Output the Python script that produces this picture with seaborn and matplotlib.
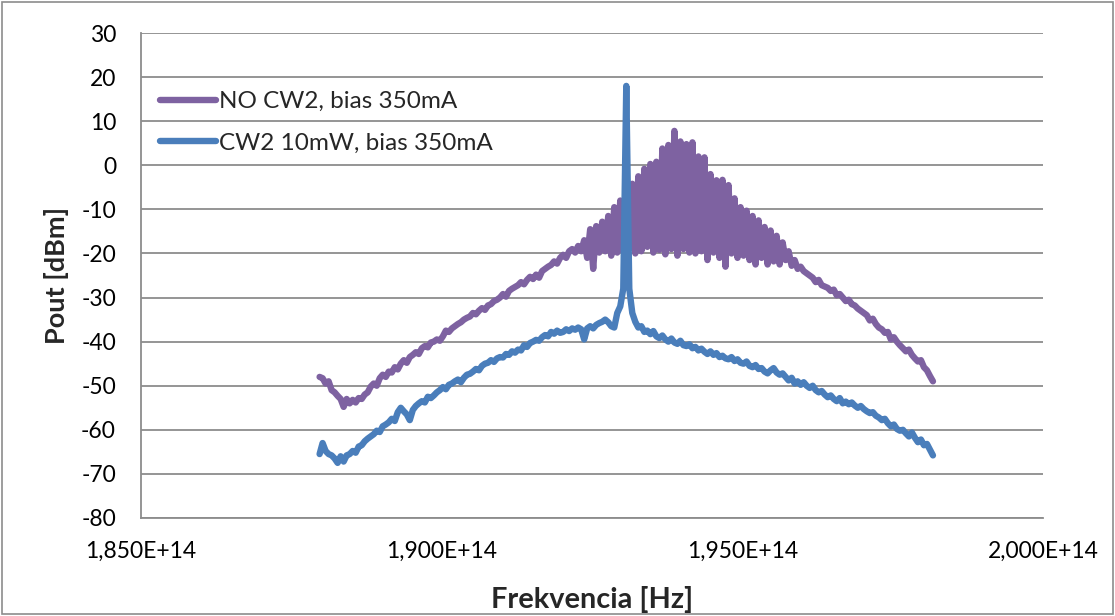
import numpy as np
import pandas as pd
import matplotlib
matplotlib.use("Agg")
import matplotlib.pyplot as plt
from matplotlib.lines import Line2D
from matplotlib.patches import Rectangle
from matplotlib.ticker import FuncFormatter
import seaborn as sns

# Optical spectrum sampled on a uniform 50 GHz grid
freq_start_hz = 1.8797e14
freq_step_hz = 5e10

series_names = ["NO CW2, bias 350mA", "CW2 10mW, bias 350mA"]
series_colors = ["#7E62A1", "#4A7EBB"]

# Output power without the CW2 signal [dBm]
pout_no_cw2 = [
    -48.0, -48.3, -49.5, -49.0, -51.0, -51.5, -52.3, -53.0, -54.8, -53.0,
    -54.0, -53.2, -53.8, -52.8, -53.0, -52.0, -51.5, -50.2, -49.5, -50.0,
    -48.3, -47.5, -48.0, -46.8, -47.0, -45.8, -46.3, -45.0, -44.2, -44.8,
    -43.5, -43.0, -42.4, -42.8, -41.5, -41.0, -41.3, -40.2, -40.0, -39.5,
    -39.8, -38.8, -37.5, -37.8, -37.0, -36.5, -36.0, -35.6, -35.0, -34.6,
    -34.3, -33.5, -33.8, -33.0, -32.4, -32.8, -31.8, -31.5, -30.8, -30.5,
    -30.0, -29.2, -29.8, -28.5, -28.0, -27.6, -27.2, -26.5, -27.0, -26.0,
    -25.3, -25.8, -24.8, -25.5, -24.0, -23.5, -23.0, -22.6, -21.8, -22.3,
    -21.0, -20.3, -21.0, -19.5, -19.0, -19.8, -18.3, -19.5, -17.0, -21.0,
    -14.5, -23.5, -13.8, -19.8, -12.8, -19.5, -11.5, -20.5, -9.5, -19.8,
    -8.0, -19.5, -6.5, -19.0, -4.2, -20.0, -2.5, -19.5, -0.8, -18.5,
    0.3, -19.8, 0.8, -19.2, 3.8, -20.2, 4.6, -19.0, 7.8, -20.5,
    5.4, -19.0, 4.8, -19.8, 5.2, -20.0, 2.0, -19.5, 1.8, -21.5,
    -2.0, -19.8, -3.4, -21.0, -3.3, -23.0, -4.5, -20.0, -7.5, -21.0,
    -9.5, -20.5, -10.3, -21.5, -11.5, -22.5, -12.5, -21.0, -14.0, -22.5,
    -14.8, -21.8, -16.0, -22.5, -17.5, -21.5, -19.5, -22.8, -21.5, -23.5,
    -23.0, -24.0, -24.5, -25.0, -25.5, -26.5, -26.0, -27.2, -27.5, -27.8,
    -28.5, -28.2, -29.5, -29.2, -30.0, -30.8, -30.5, -31.5, -31.8, -32.5,
    -33.0, -33.5, -34.0, -35.2, -34.8, -36.0, -36.8, -37.2, -38.0, -37.8,
    -39.5, -39.0, -40.0, -40.8, -41.5, -42.2, -41.8, -43.0, -43.8, -44.5,
    -44.2, -45.8, -46.5, -47.8, -49.0,
]

# Output power with a 10 mW CW2 signal [dBm]
pout_cw2 = [
    -65.5, -63.0, -64.8, -65.5, -65.8, -66.5, -67.5, -66.0, -67.2, -65.8,
    -65.5, -64.8, -65.2, -63.8, -63.5, -62.6, -62.0, -61.5, -61.0, -60.2,
    -60.5, -59.2, -58.8, -58.3, -57.5, -58.0, -56.0, -55.0, -55.8, -56.5,
    -57.8, -55.5, -54.6, -54.0, -53.5, -53.8, -52.5, -52.8, -52.2, -51.5,
    -51.0, -50.3, -50.8, -49.8, -49.5, -49.0, -48.6, -49.2, -48.2, -47.5,
    -47.3, -46.8, -46.2, -46.5, -45.5, -45.0, -44.8, -44.2, -44.6, -43.8,
    -43.5, -43.6, -42.8, -43.0, -42.2, -42.5, -41.8, -42.0, -40.8, -41.2,
    -40.3, -40.0, -39.6, -39.8, -39.0, -38.5, -38.8, -37.8, -38.2, -37.5,
    -38.0, -37.8, -37.2, -37.6, -37.0, -37.3, -36.8, -37.2, -39.5, -37.0,
    -36.5, -37.0, -36.2, -35.8, -35.5, -35.0, -35.6, -36.5, -36.8, -33.5,
    -32.0, -28.0, 18.0, -28.0, -33.5, -35.5, -36.8, -36.5, -37.8, -37.5,
    -38.3, -37.6, -38.8, -39.2, -38.6, -39.5, -40.0, -39.3, -40.2, -40.5,
    -39.8, -40.8, -41.0, -40.6, -41.5, -41.2, -42.0, -41.6, -42.3, -42.8,
    -42.2, -43.0, -42.6, -43.5, -43.2, -43.8, -44.0, -43.5, -44.4, -44.0,
    -44.8, -45.0, -44.5, -45.5, -45.8, -45.3, -46.2, -46.0, -46.8, -47.2,
    -46.5, -46.0, -47.0, -47.5, -47.2, -48.0, -48.8, -48.2, -49.5, -49.0,
    -49.8, -49.2, -50.0, -50.5, -50.0, -51.0, -51.5, -51.2, -52.0, -52.6,
    -52.2, -53.0, -53.5, -52.8, -54.0, -53.6, -54.2, -53.8, -54.5, -55.0,
    -54.6, -55.3, -55.8, -56.2, -56.0, -56.8, -57.2, -57.8, -57.5, -58.5,
    -59.2, -58.8, -59.8, -60.2, -60.0, -60.8, -61.5, -60.6, -61.8, -62.8,
    -62.2, -63.5, -63.2, -64.5, -65.8,
]

y_ticks = [30, 20, 10, 0, -10, -20, -30, -40, -50, -60, -70, -80]
x_tick_values = [1.85e14, 1.90e14, 1.95e14, 2.00e14]

freq_hz = freq_start_hz + freq_step_hz * np.arange(len(pout_no_cw2))

df = pd.DataFrame({
    "freq": np.concatenate([freq_hz, freq_hz]),
    "pout": np.concatenate([pout_no_cw2, pout_cw2]),
    "series": [series_names[0]] * len(freq_hz) + [series_names[1]] * len(freq_hz),
})

sns.set_theme(style="white")
plt.rcParams["font.family"] = ["Lato", "DejaVu Sans"]
plt.rcParams["axes.unicode_minus"] = False

LINE_W = 4.6

fig = plt.figure(figsize=(11.15, 6.16), dpi=100)
ax = fig.add_axes([141 / 1115, 1 - 518 / 616, (1043 - 141) / 1115, (518 - 33) / 616])

sns.lineplot(
    data=df, x="freq", y="pout", hue="series", hue_order=series_names,
    palette=series_colors, estimator=None, sort=False, legend=False,
    linewidth=LINE_W, ax=ax,
)
for line in ax.get_lines():
    line.set_linewidth(LINE_W)
    line.set_solid_capstyle("round")
    line.set_solid_joinstyle("round")

ax.set_xlim(x_tick_values[0], x_tick_values[-1])
ax.set_ylim(min(y_ticks), max(y_ticks))
ax.set_yticks(y_ticks)
ax.set_xticks(x_tick_values)
ax.xaxis.set_major_formatter(
    FuncFormatter(lambda v, _: f"{v / 1e14:.3f}".replace(".", ",") + "E+14")
)

grid_color = "#8C8C8C"
ax.yaxis.grid(True, color=grid_color, linewidth=1.3)
ax.xaxis.grid(False)
ax.set_axisbelow(True)
for side in ["top", "right"]:
    ax.spines[side].set_visible(False)
for side in ["left", "bottom"]:
    ax.spines[side].set_color(grid_color)
    ax.spines[side].set_linewidth(1.3)

ax.tick_params(axis="both", which="major", direction="out", length=5.5,
               width=1.1, color=grid_color, labelsize=16.5, labelcolor="#000000")
ax.tick_params(axis="y", pad=12.5)
ax.tick_params(axis="x", pad=11)

ax.set_xlabel("Frekvencia [Hz]", fontsize=20.8, fontweight="bold", labelpad=17)
ax.set_ylabel("Pout [dBm]", fontsize=19.5, fontweight="bold", labelpad=9)

handles = [Line2D([], [], color=c, linewidth=LINE_W, solid_capstyle="round")
           for c in series_colors]
ax.legend(handles, series_names, loc="upper left", bbox_to_anchor=(0.021, 0.88),
          frameon=False, fontsize=17.5, handlelength=2.3, handletextpad=0.12,
          labelspacing=0.85, borderaxespad=0.0, borderpad=0.0)

fig.patches.append(Rectangle((2 / 1115, 2 / 616), 1111 / 1115, 612 / 616,
                             transform=fig.transFigure, fill=False,
                             edgecolor="#8C8C8C", linewidth=1.2))

fig.savefig("out.png", dpi=100)
